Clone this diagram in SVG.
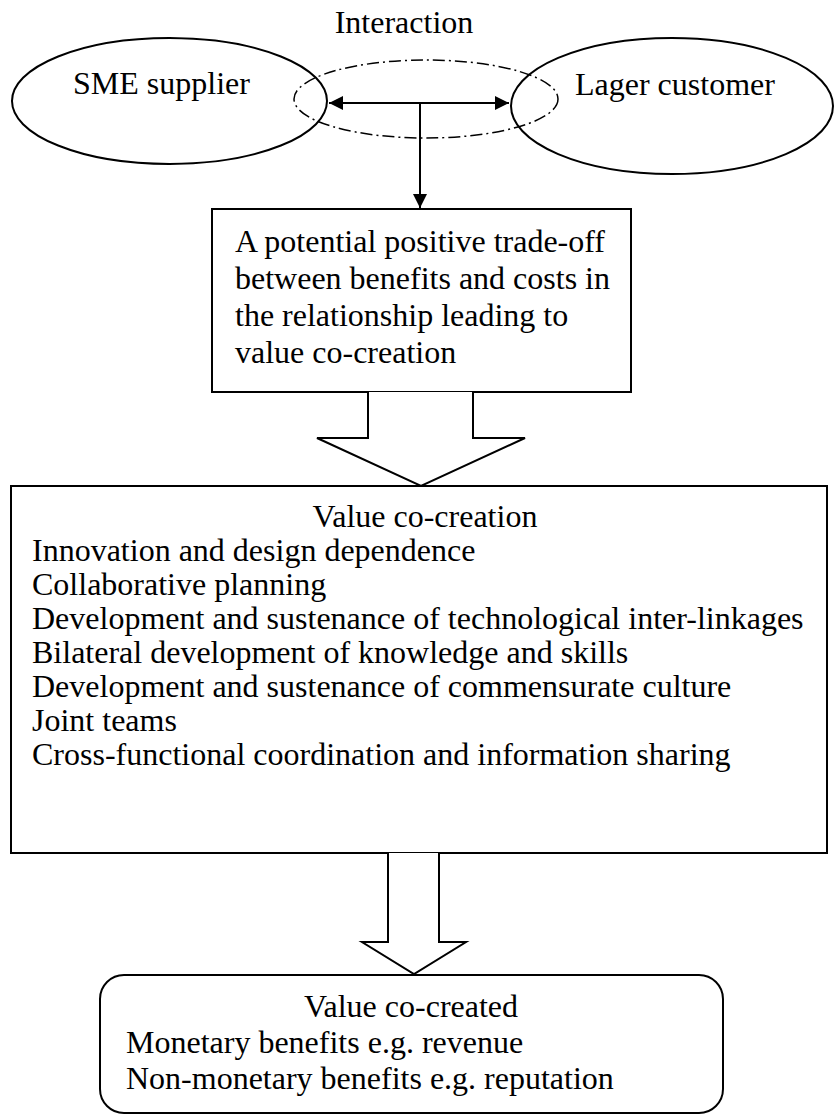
<svg xmlns="http://www.w3.org/2000/svg" width="834" height="1115" viewBox="0 0 834 1115">
<defs>
<style>
text{font-family:"Liberation Serif","Times New Roman",serif;font-size:32px;fill:#000}
.s{fill:none;stroke:#000;stroke-width:2}
.w{fill:#fff;stroke:#000;stroke-width:2}
.c{text-anchor:middle}
</style>
<marker id="ah" viewBox="0 0 10 10" refX="10" refY="5" markerWidth="7" markerHeight="7" markerUnits="strokeWidth" orient="auto-start-reverse">
<path d="M0,0 L10,5 L0,10 z" fill="#000"/>
</marker>
</defs>
<rect width="834" height="1115" fill="#fff"/>
<g id="label-interaction"><text class="c" x="404" y="33">Interaction</text></g>
<g id="sme-supplier">
<ellipse class="s" cx="169.5" cy="101" rx="157.5" ry="63"/>
<text x="73" y="94">SME supplier</text>
</g>
<g id="lager-customer">
<ellipse class="s" cx="672" cy="106" rx="161" ry="68"/>
<text x="575" y="95">Lager customer</text>
</g>
<g id="interaction-zone">
<ellipse cx="426" cy="99" rx="132" ry="39" fill="none" stroke="#000" stroke-width="1.5" stroke-dasharray="12 4 2 4"/>
</g>
<g id="tradeoff">
<rect class="s" x="212" y="209" width="419" height="183"/>
<text x="235" y="252">A potential positive trade-off</text>
<text x="235" y="289">between benefits and costs in</text>
<text x="235" y="326">the relationship leading to</text>
<text x="235" y="363">value co-creation</text>
</g>
<g id="value-co-creation">
<rect class="s" x="11" y="486" width="816" height="367"/>
<text class="c" x="425" y="527">Value co-creation</text>
<text x="32" y="561">Innovation and design dependence</text>
<text x="32" y="595">Collaborative planning</text>
<text x="32" y="629">Development and sustenance of technological inter-linkages</text>
<text x="32" y="663">Bilateral development of knowledge and skills</text>
<text x="32" y="697">Development and sustenance of commensurate culture</text>
<text x="32" y="731">Joint teams</text>
<text x="32" y="765">Cross-functional coordination and information sharing</text>
</g>
<g id="value-co-created">
<rect class="s" x="100" y="975" width="623" height="138" rx="24" ry="24"/>
<text class="c" x="411" y="1017">Value co-created</text>
<text x="126" y="1053">Monetary benefits e.g. revenue</text>
<text x="126" y="1089">Non-monetary benefits e.g. reputation</text>
</g>
<g id="connectors">
<line x1="329" y1="103" x2="509" y2="103" stroke="#000" stroke-width="2" marker-start="url(#ah)" marker-end="url(#ah)"/>
<line x1="420" y1="103" x2="420" y2="208" stroke="#000" stroke-width="2" marker-end="url(#ah)"/>
<path class="w" d="M368,392 L368,438 L317,438 L421,486 L525,438 L473,438 L473,392"/>
<path class="w" d="M388,853 L388,942 L362,942 L414,974 L466,942 L439,942 L439,853"/>
</g>
</svg>
